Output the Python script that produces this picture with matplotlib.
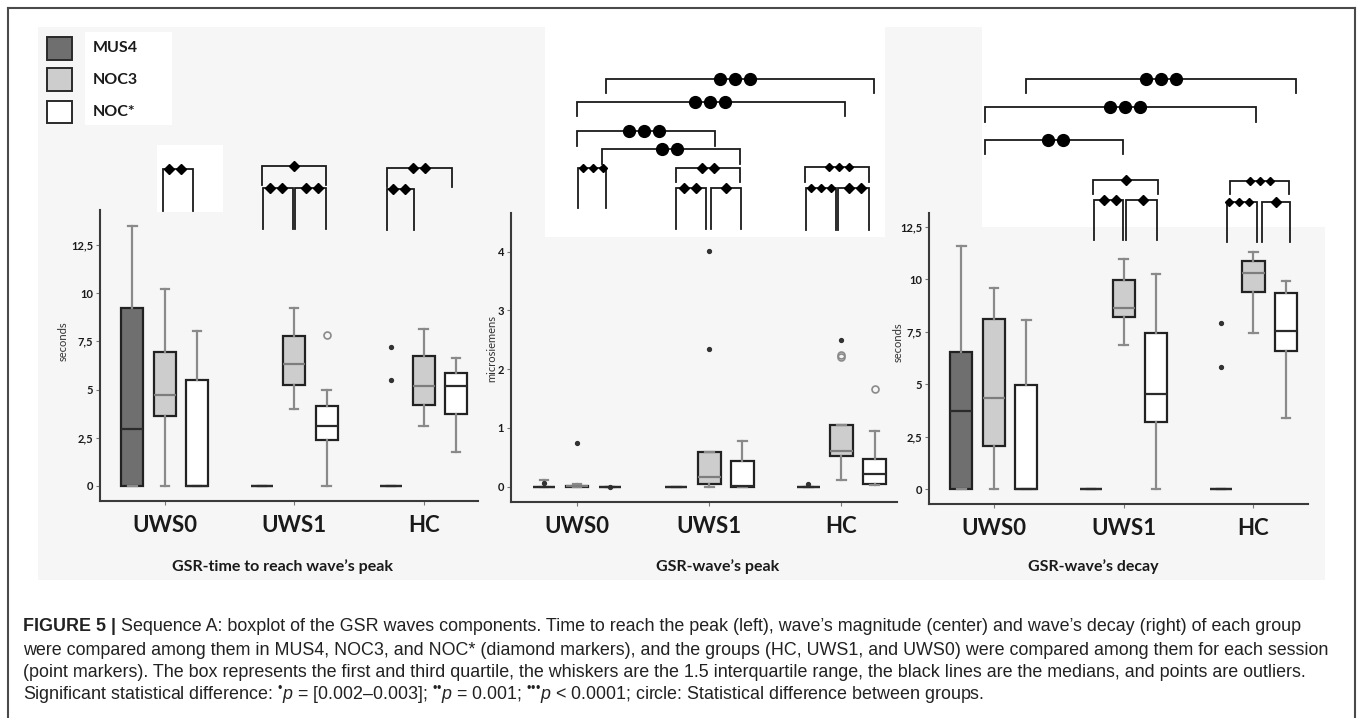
import matplotlib
matplotlib.use("Agg")
import matplotlib.pyplot as plt
from matplotlib.patches import Rectangle
from matplotlib.lines import Line2D
from matplotlib import transforms

plt.rcParams["font.family"] = ["Lato", "DejaVu Sans"]
plt.rcParams["mathtext.fontset"] = "custom"
plt.rcParams["mathtext.rm"] = "Liberation Sans"
plt.rcParams["mathtext.it"] = "Liberation Sans:italic"

W, H = 1358, 718

groups = ["UWS0", "UWS1", "HC"]
categories = ["MUS4", "NOC3", "NOC*"]

# (whisker low, q1, median, q3, whisker high) for UWS0, UWS1, HC
time_mus4 = [(0, 0, 2.95, 9.2, 13.45), (0, 0, 0, 0, 0), (0, 0, 0, 0, 0)]
time_noc3 = [(0, 3.65, 4.7, 6.95, 10.2), (4.0, 5.25, 6.3, 7.75, 9.2), (3.1, 4.2, 5.2, 6.75, 8.15)]
time_nocs = [(0, 0, 0, 5.5, 8.05), (0, 2.4, 3.1, 4.15, 4.95), (1.75, 3.75, 5.2, 5.85, 6.65)]
# outliers: (group, category, value)
time_dots = [(2, 0, 7.22), (2, 0, 5.5)]
time_rings = [(1, 2, 7.8)]

peak_mus4 = [(0, 0, 0, 0, 0.12), (0, 0, 0, 0, 0), (0, 0, 0, 0, 0)]
peak_noc3 = [(0, 0, 0.01, 0.02, 0.04), (0, 0.05, 0.16, 0.59, 0.59), (0.12, 0.52, 0.61, 1.05, 1.05)]
peak_nocs = [(0, 0, 0, 0, 0), (0, 0, 0.02, 0.43, 0.77), (0.03, 0.04, 0.21, 0.47, 0.94)]
peak_dots = [(0, 0, 0.06), (0, 1, 0.74), (0, 2, 0.0), (1, 1, 4.02), (1, 1, 2.35), (2, 0, 0.04), (2, 1, 2.5)]
peak_rings = [(2, 1, 2.25), (2, 1, 2.2), (2, 2, 1.67)]

decay_mus4 = [(0, 0, 3.75, 6.55, 11.6), (0, 0, 0, 0, 0), (0, 0, 0, 0, 0)]
decay_noc3 = [(0, 2.05, 4.35, 8.1, 9.57), (6.87, 8.2, 8.65, 9.97, 10.95), (7.43, 9.38, 10.3, 10.85, 11.3)]
decay_nocs = [(0, 0, 0, 4.97, 8.07), (0, 3.22, 4.54, 7.42, 10.25), (3.38, 6.58, 7.54, 9.36, 9.93)]
decay_dots = [(2, 0, 7.9), (2, 0, 5.8)]
decay_rings = []

# significance brackets: (x from, x to, bar height, leg end, marks, marker, marks centre)
time_brackets = [
    (-0.01, 0.22, 16.4, 14.26, 2, "D", 0.08),
    (0.75, 1.243, 16.58, 15.6, 1, "D", 0.996),
    (0.757, 0.988, 15.44, 13.3, 2, "D", 0.861),
    (1.004, 1.243, 15.44, 13.3, 2, "D", 1.139),
    (1.714, 2.216, 16.48, 15.5, 2, "D", 1.965),
    (1.714, 1.923, 15.39, 13.26, 2, "D", 1.81),
]
peak_brackets = [
    (0.217, 2.245, 6.94, 6.70, 3, "o", 1.197),
    (0.0, 2.03, 6.55, 6.31, 3, "o", 1.008),
    (0.0, 1.04, 6.06, 5.80, 3, "o", 0.508),
    (0.19, 1.235, 5.75, 5.50, 2, "o", 0.697),
    (0.01, 0.217, 5.42, 4.74, 3, "D", 0.124),
    (0.748, 1.235, 5.43, 5.19, 2, "D", 0.987),
    (0.748, 0.977, 5.09, 4.38, 2, "D", 0.856),
    (1.013, 1.24, 5.09, 4.38, 1, "D", 1.129),
    (1.722, 2.207, 5.45, 5.19, 3, "D", 1.98),
    (1.733, 1.96, 5.08, 4.37, 3, "D", 1.848),
    (1.975, 2.207, 5.08, 4.37, 2, "D", 2.106),
]
decay_brackets = [
    (0.246, 2.33, 19.54, 18.86, 3, "o", 1.284),
    (-0.065, 2.016, 18.22, 17.5, 3, "o", 1.01),
    (-0.072, 0.994, 16.63, 15.95, 2, "o", 0.472),
    (0.765, 1.266, 14.73, 14.05, 1, "D", 1.02),
    (0.77, 0.998, 13.78, 11.87, 2, "D", 0.895),
    (1.017, 1.258, 13.78, 11.87, 1, "D", 1.149),
    (1.816, 2.27, 14.7, 14.05, 3, "D", 2.054),
    (1.795, 2.029, 13.7, 11.76, 3, "D", 1.886),
    (2.062, 2.283, 13.7, 11.76, 1, "D", 2.174),
]

sec_ticks = [0, 2.5, 5, 7.5, 10, 12.5]
sec_labels = ["0", "2,5", "5", "7,5", "10", "12,5"]
us_ticks = [0, 1, 2, 3, 4]
us_labels = ["0", "1", "2", "3", "4"]

titles = ["GSR-time to reach wave\u2019s peak", "GSR-wave\u2019s peak", "GSR-wave\u2019s decay"]

caption_head = "FIGURE 5 |"
caption_lines = [
    " Sequence A: boxplot of the GSR waves components. Time to reach the peak (left), wave\u2019s magnitude (center) and wave\u2019s decay (right) of each group",
    "were compared among them in MUS4, NOC3, and NOC* (diamond markers), and the groups (HC, UWS1, and UWS0) were compared among them for each session",
    "(point markers). The box represents the first and third quartile, the whiskers are the 1.5 interquartile range, the black lines are the medians, and points are outliers.",
    "Significant statistical difference: $^{\u2022}p$ = [0.002\u20130.003]; $^{\u2022\u2022}p$ = 0.001; $^{\u2022\u2022\u2022}p$ < 0.0001; circle: Statistical difference between groups.",
]

fills = ["#6f6f6f", "#cdcdcd", "#ffffff"]
med_colors = ["#2b2b2b", "#7d7d7d", "#2b2b2b"]
offsets = [-0.25, 0, 0.25]

fig = plt.figure(figsize=(W / 100, H / 100), dpi=100)
fig.patch.set_facecolor("white")


def fx(px):
    return px / W


def fy(py):
    return 1 - py / H


def back(x0, y0, x1, y1, color):
    fig.add_artist(Rectangle((fx(x0), fy(y1)), fx(x1) - fx(x0), fy(y0) - fy(y1),
                             transform=fig.transFigure, facecolor=color,
                             edgecolor="none", zorder=-10))


# scanned-looking background patches
back(38, 27, 1325, 580, "#f6f6f6")
back(85, 32, 172, 125, "#ffffff")
back(157, 145, 223, 212, "#ffffff")
back(545, 22, 885, 237, "#ffffff")
back(982, 27, 1325, 227, "#ffffff")

# outer frame
for xs, ys in [([8, 8], [8, H]), ([8, 1355], [8, 8]), ([1355, 1355], [8, H])]:
    fig.add_artist(Line2D([fx(x) for x in xs], [fy(y) for y in ys], color="#4a4a4a",
                          lw=1.5, transform=fig.transFigure))

# legend
for (y0, y1), col, lab in zip([(37, 60), (68, 91), (101, 123)], fills, categories):
    fig.add_artist(Rectangle((fx(47), fy(y1)), fx(72) - fx(47), fy(y0) - fy(y1),
                             transform=fig.transFigure, facecolor=col,
                             edgecolor="#2a2a2a", lw=1.4))
    fig.text(fx(93), fy((y0 + y1) / 2), lab, fontsize=11.5, fontweight="bold",
             va="center", ha="left", color="#1a1a1a")

layout = [
    # x left, x right, y top, y bottom (pixels), pixel of zero, px per unit, spine top
    (100, 478, 30, 501, 486, 19.3, 14.3),
    (511, 897, 30, 501.7, 486.7, 58.75, 4.66),
    (929, 1308, 30, 504, 489.3, 21.0, 13.16),
]
panels = [
    ([time_mus4, time_noc3, time_nocs], time_dots, time_rings, time_brackets, sec_ticks, sec_labels, "seconds"),
    ([peak_mus4, peak_noc3, peak_nocs], peak_dots, peak_rings, peak_brackets, us_ticks, us_labels, "microsiemens"),
    ([decay_mus4, decay_noc3, decay_nocs], decay_dots, decay_rings, decay_brackets, sec_ticks, sec_labels, "seconds"),
]
ylab_pos = [(63, 341), (492, 349), (898, 342)]
title_pos = [(282, 567), (718, 567), (1093, 567)]

for (x0, x1, y0, y1, yz, ppu, stop), (series, dots, rings, brackets, yt, yl, ylab), lp, tp, title in zip(
        layout, panels, ylab_pos, title_pos, titles):
    ax = fig.add_axes([fx(x0), fy(y1), fx(x1) - fx(x0), fy(y0) - fy(y1)])
    ax.set_facecolor("none")
    lo, hi = -(y1 - yz) / ppu, (yz - y0) / ppu
    for k, stats in enumerate(series):
        st = [dict(whislo=s[0], q1=s[1], med=s[2], q3=s[3], whishi=s[4], fliers=[]) for s in stats]
        pos = [g + offsets[k] for g in range(3)]
        ax.bxp(st, positions=pos, widths=0.17, capwidths=0.065, showfliers=False,
               patch_artist=True,
               boxprops=dict(facecolor=fills[k], edgecolor="#222222", linewidth=1.6),
               medianprops=dict(color=med_colors[k], linewidth=1.6),
               whiskerprops=dict(color="#8a8a8a", linewidth=1.6),
               capprops=dict(color="#8a8a8a", linewidth=1.6))
    for g, k, v in dots:
        ax.plot(g + offsets[k], v, marker="o", ms=2.8, color="#333333", ls="none")
    for g, k, v in rings:
        ax.plot(g + offsets[k], v, marker="o", ms=5, mfc="none", mec="#8a8a8a", mew=1.2, ls="none")
    for bx1, bx2, yb, yl_, n, kind, xm in brackets:
        ax.plot([bx1, bx1, bx2, bx2], [yl_, yb, yb, yl_], color="#1a1a1a", lw=1.3,
                clip_on=False, solid_joinstyle="miter")
        if kind == "o":
            sp, ms = 15, 8.5
        elif n <= 2:
            sp, ms = 12, 5.4
        else:
            sp, ms = 10, 4.4
        for i in range(n):
            tr = transforms.offset_copy(ax.transData, fig=fig, x=(i - (n - 1) / 2) * sp,
                                        y=0, units="dots")
            ax.plot([xm], [yb], marker=kind, ms=ms, color="black", transform=tr,
                    clip_on=False, ls="none")
    ax.set_xlim(-0.5, 2.42)
    ax.set_ylim(lo, hi)
    for s in ["top", "right"]:
        ax.spines[s].set_visible(False)
    ax.spines["left"].set_bounds(lo, stop)
    for s in ["left", "bottom"]:
        ax.spines[s].set_color("#3a3a3a")
        ax.spines[s].set_linewidth(1.5)
    ax.set_xticks(range(3))
    ax.set_xticklabels(groups, fontsize=16, fontweight="bold", color="#1a1a1a")
    ax.set_yticks(yt)
    ax.set_yticklabels(yl, fontsize=8, fontweight="bold", color="#1a1a1a")
    ax.tick_params(axis="x", length=3, pad=7, color="#777777")
    ax.tick_params(axis="y", length=3, pad=2, color="#777777")
    fig.text(fx(lp[0]), fy(lp[1]), ylab, rotation=90, fontsize=8, ha="center", va="center",
             color="#333333")
    fig.text(fx(tp[0]), fy(tp[1]), title, fontsize=11.5, fontweight="bold", ha="center",
             va="center", color="#1a1a1a")

# caption
cap_font = dict(family=["Liberation Sans", "DejaVu Sans"], fontsize=12.9, color="#222222")
head = fig.text(fx(23), fy(631), caption_head, fontweight="bold", va="baseline", ha="left", **cap_font)
fig.canvas.draw()
bb = head.get_window_extent()
fig.text(bb.x1 / W, fy(631), caption_lines[0], va="baseline", ha="left", **cap_font)
for line, yb in zip(caption_lines[1:], [655, 677, 699]):
    fig.text(fx(23), fy(yb), line, va="baseline", ha="left", **cap_font)

fig.savefig("out.png", dpi=100)
